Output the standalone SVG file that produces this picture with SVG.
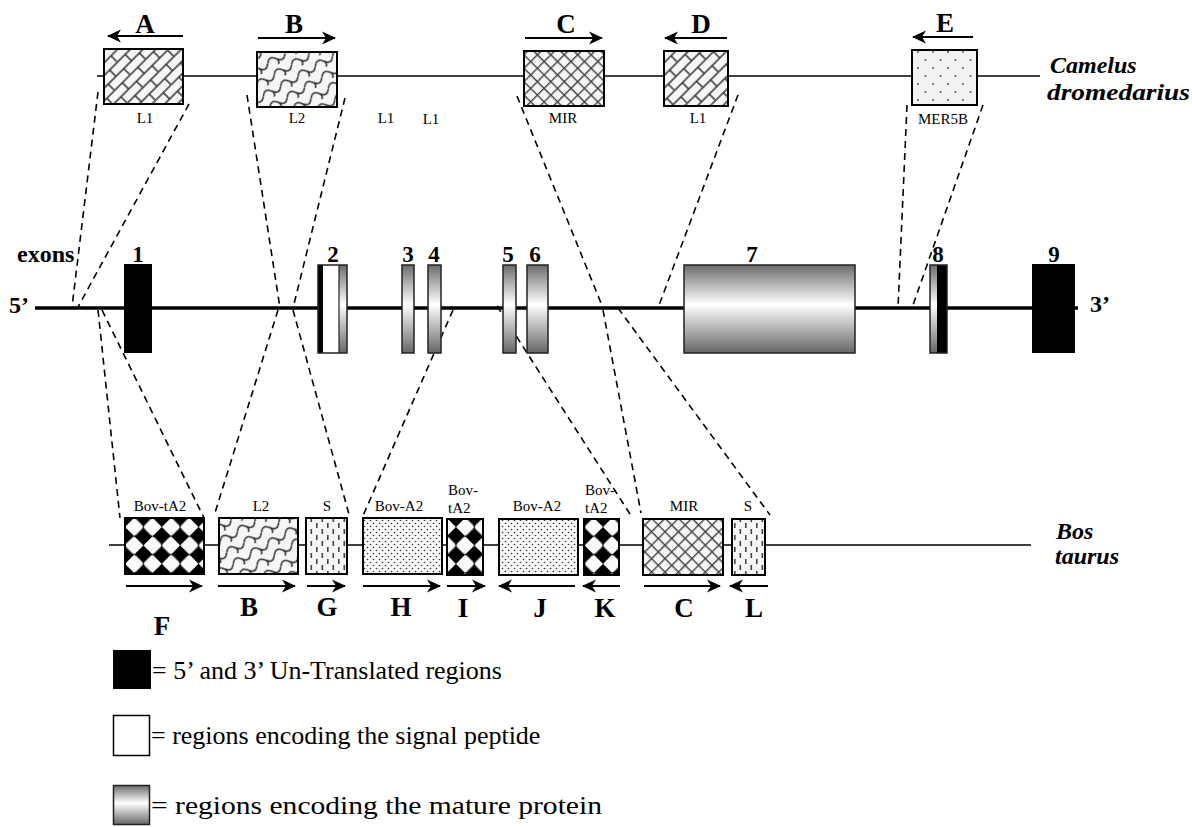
<svg xmlns="http://www.w3.org/2000/svg" width="1192" height="827" viewBox="0 0 1192 827">
<style>
.bl{font-family:"Liberation Serif",serif;font-weight:bold;font-size:27px;text-anchor:middle;fill:#000}
.num{font-family:"Liberation Serif",serif;font-weight:bold;font-size:23px;text-anchor:middle;fill:#000}
.sm{font-family:"Liberation Serif",serif;font-size:15px;text-anchor:middle;fill:#000}
.sml{font-family:"Liberation Serif",serif;font-size:15px;fill:#000}
.sp{font-family:"Liberation Serif",serif;font-weight:bold;font-style:italic;font-size:24px;fill:#000}
.lg{font-family:"Liberation Serif",serif;font-size:26px;fill:#000}
.bd{font-family:"Liberation Serif",serif;font-weight:bold;font-size:24px;fill:#000}
.thin{stroke:#000;stroke-width:1.6;fill:none}
.box{stroke:#000;stroke-width:2}
.ex{stroke:#222;stroke-width:1.5}
.arr{stroke:#000;stroke-width:2.2;fill:none;marker-end:url(#ah)}
.dash{stroke:#000;stroke-width:1.6;fill:none;stroke-dasharray:7 5}
</style>
<defs>
<marker id="ah" viewBox="0 0 14 14" refX="13" refY="7" markerWidth="14" markerHeight="14" markerUnits="userSpaceOnUse" orient="auto">
<path d="M0,0.5 L14,7 L0,13.5 L4,7 Z" fill="#000"/>
</marker>
<linearGradient id="gr" x1="0" y1="0" x2="0" y2="1">
<stop offset="0" stop-color="#6c6c6c"/>
<stop offset="0.45" stop-color="#ffffff"/>
<stop offset="1" stop-color="#666666"/>
</linearGradient>
<pattern id="pL1" width="22" height="18" patternUnits="userSpaceOnUse" patternTransform="rotate(-45)">
<rect width="22" height="18" fill="#f6f6f6"/>
<path d="M0,1H22M0,10H22M6,1V10M17,10V19" stroke="#333" stroke-width="1.5" fill="none"/>
</pattern>
<pattern id="pL2" width="20" height="13" patternUnits="userSpaceOnUse" patternTransform="rotate(-30)">
<rect width="20" height="13" fill="#f6f6f6"/>
<path d="M0,7 Q5,0 10,7 T20,7 M10,7 Q12,11 9,13" stroke="#333" stroke-width="1.5" fill="none"/>
</pattern>
<pattern id="pMIR" width="9.5" height="9.5" patternUnits="userSpaceOnUse" patternTransform="rotate(45)">
<rect width="9.5" height="9.5" fill="#f6f6f6"/>
<path d="M0,0.7H9.5M0.7,0V9.5" stroke="#444" stroke-width="1.4" fill="none"/>
</pattern>
<pattern id="pMER" width="15" height="16" patternUnits="userSpaceOnUse">
<rect width="15" height="16" fill="#f2f2f2"/>
<circle cx="3" cy="4" r="1" fill="#555"/>
<circle cx="10.5" cy="12" r="1" fill="#555"/>
</pattern>
<pattern id="pA2" width="6" height="6" patternUnits="userSpaceOnUse">
<rect width="6" height="6" fill="#f8f8f8"/>
<circle cx="1.5" cy="1.5" r="0.8" fill="#333"/>
<circle cx="4.5" cy="4.5" r="0.8" fill="#333"/>
</pattern>
<pattern id="pTA2" width="26" height="26" patternUnits="userSpaceOnUse" patternTransform="translate(125,527) rotate(45)">
<rect width="26" height="26" fill="#000"/>
<rect x="12.6" y="-0.4" width="13.8" height="13.8" rx="3" fill="#fafafa"/>
<rect x="-0.4" y="12.6" width="13.8" height="13.8" rx="3" fill="#fafafa"/>
</pattern>
<pattern id="pS" width="11" height="12" patternUnits="userSpaceOnUse">
<rect width="11" height="12" fill="#f6f6f6"/>
<rect x="2.5" y="1" width="1.6" height="5" fill="#444"/>
<rect x="8" y="7" width="1.6" height="5" fill="#444"/>
</pattern>
</defs>
<rect width="1192" height="827" fill="#fff"/>

<g id="connectors">
<path class="dash" d="M98,92 L72,307"/>
<path class="dash" d="M189,104 L78,307"/>
<path class="dash" d="M247,95 L280,308"/>
<path class="dash" d="M345,98 L293,308"/>
<path class="dash" d="M517,96 L603,308"/>
<path class="dash" d="M738,95 L658,308"/>
<path class="dash" d="M907,105 L898,308"/>
<path class="dash" d="M983,105 L912,308"/>
<path class="dash" d="M98,310 L120,518"/>
<path class="dash" d="M102,310 L204,518"/>
<path class="dash" d="M278,310 L214,516"/>
<path class="dash" d="M293,310 L350,518"/>
<path class="dash" d="M453,310 L362,518"/>
<path class="dash" d="M497,306 L630,514"/>
<path class="dash" d="M603,310 L641,513"/>
<path class="dash" d="M618,308 L770,515"/>
</g>

<g id="camel">
<line class="thin" x1="97" y1="76" x2="1040" y2="76"/>
<text class="sp" x="1050" y="73">Camelus</text>
<text class="sp" x="1047" y="100" textLength="143" lengthAdjust="spacingAndGlyphs">dromedarius</text>
<g id="cA">
<rect class="box" x="104" y="49" width="79" height="55" fill="url(#pL1)"/>
<path class="arr" d="M183,36 H108"/>
<text class="bl" x="145" y="33">A</text>
<text class="sm" x="145" y="123">L1</text>
</g>
<g id="cB">
<rect class="box" x="257" y="52" width="80" height="55" fill="url(#pL2)"/>
<path class="arr" d="M258,38 H335"/>
<text class="bl" x="294" y="33">B</text>
<text class="sm" x="297" y="123">L2</text>
</g>
<text class="sm" x="386" y="123">L1</text>
<text class="sm" x="431" y="124">L1</text>
<g id="cC">
<rect class="box" x="524" y="51" width="80" height="55" fill="url(#pMIR)"/>
<path class="arr" d="M525,38 H602"/>
<text class="bl" x="566" y="33">C</text>
<text class="sm" x="563" y="123">MIR</text>
</g>
<g id="cD">
<rect class="box" x="664" y="51" width="64" height="55" fill="url(#pL1)"/>
<path class="arr" d="M727,38 H665"/>
<text class="bl" x="701" y="33">D</text>
<text class="sm" x="698" y="123">L1</text>
</g>
<g id="cE">
<rect class="box" x="912" y="50" width="65" height="55" fill="url(#pMER)"/>
<path class="arr" d="M973,37 H913"/>
<text class="bl" x="945" y="32">E</text>
<text class="sm" x="943" y="124">MER5B</text>
</g>
</g>

<g id="gene">
<line x1="35" y1="308" x2="1078" y2="308" stroke="#000" stroke-width="3.5"/>
<text class="bd" x="17" y="262">exons</text>
<text class="bd" x="9" y="313">5’</text>
<text class="bd" x="1090" y="312">3’</text>
<g id="ex1"><rect x="124" y="264" width="28" height="89" fill="#000"/><text class="num" x="138" y="262">1</text></g>
<g id="ex2">
<rect x="318" y="265" width="21" height="88" fill="#fff"/>
<rect x="318" y="265" width="5" height="88" fill="#000"/>
<rect x="339" y="265" width="8" height="88" fill="url(#gr)"/>
<rect class="ex" x="318" y="265" width="29" height="88" fill="none"/>
<line x1="339" y1="265" x2="339" y2="353" stroke="#222" stroke-width="1.2"/>
<text class="num" x="333" y="262">2</text>
</g>
<g id="ex3"><rect class="ex" x="402" y="265" width="12" height="88" fill="url(#gr)"/><text class="num" x="408" y="262">3</text></g>
<g id="ex4"><rect class="ex" x="428" y="265" width="13" height="88" fill="url(#gr)"/><text class="num" x="434" y="262">4</text></g>
<g id="ex5"><rect class="ex" x="503" y="265" width="13" height="88" fill="url(#gr)"/><text class="num" x="508" y="262">5</text></g>
<g id="ex6"><rect class="ex" x="527" y="265" width="21" height="88" fill="url(#gr)"/><text class="num" x="535" y="262">6</text></g>
<g id="ex7"><rect class="ex" x="684" y="265" width="171" height="88" fill="url(#gr)"/><text class="num" x="752" y="262">7</text></g>
<g id="ex8">
<rect x="930" y="265" width="7" height="88" fill="url(#gr)"/>
<rect x="937" y="265" width="10" height="88" fill="#000"/>
<rect class="ex" x="930" y="265" width="17" height="88" fill="none"/>
<text class="num" x="938" y="262">8</text>
</g>
<g id="ex9"><rect x="1032" y="264" width="43" height="89" fill="#000"/><text class="num" x="1054" y="262">9</text></g>
</g>

<g id="bos">
<line class="thin" x1="109" y1="545" x2="1031" y2="545"/>
<text class="sp" x="1056" y="539">Bos</text>
<text class="sp" x="1055" y="564">taurus</text>
<g id="bF">
<rect class="box" x="125" y="518" width="79" height="56" fill="url(#pTA2)"/>
<text class="sm" x="160" y="511">Bov-tA2</text>
<path class="arr" d="M126,586 H202"/>
<text class="bl" x="162" y="635">F</text>
</g>
<g id="bB">
<rect class="box" x="219" y="518" width="79" height="56" fill="url(#pL2)"/>
<text class="sm" x="261" y="511">L2</text>
<path class="arr" d="M218,586 H295"/>
<text class="bl" x="249" y="616">B</text>
</g>
<g id="bG">
<rect class="box" x="306" y="518" width="41" height="56" fill="url(#pS)"/>
<text class="sm" x="327" y="511">S</text>
<path class="arr" d="M307,586 H345"/>
<text class="bl" x="327" y="616">G</text>
</g>
<g id="bH">
<rect class="box" x="363" y="518" width="79" height="56" fill="url(#pA2)"/>
<text class="sm" x="399" y="511">Bov-A2</text>
<path class="arr" d="M363,586 H440"/>
<text class="bl" x="401" y="616">H</text>
</g>
<g id="bI">
<rect class="box" x="447" y="519" width="36" height="56" fill="url(#pTA2)"/>
<text class="sml" x="448" y="495">Bov-</text>
<text class="sml" x="448" y="513">tA2</text>
<path class="arr" d="M447,586 H485"/>
<text class="bl" x="463" y="617">I</text>
</g>
<g id="bJ">
<rect class="box" x="499" y="519" width="79" height="56" fill="url(#pA2)"/>
<text class="sm" x="537" y="511">Bov-A2</text>
<path class="arr" d="M575,586 H499"/>
<text class="bl" x="540" y="617">J</text>
</g>
<g id="bK">
<rect class="box" x="584" y="519" width="35" height="56" fill="url(#pTA2)"/>
<text class="sml" x="585" y="495">Bov-</text>
<text class="sml" x="585" y="513">tA2</text>
<path class="arr" d="M620,586 H583"/>
<text class="bl" x="605" y="617">K</text>
</g>
<g id="bC">
<rect class="box" x="643" y="519" width="80" height="56" fill="url(#pMIR)"/>
<text class="sm" x="684" y="511">MIR</text>
<path class="arr" d="M644,586 H720"/>
<text class="bl" x="684" y="617">C</text>
</g>
<g id="bL">
<rect class="box" x="732" y="519" width="33" height="56" fill="url(#pS)"/>
<text class="sm" x="748" y="511">S</text>
<path class="arr" d="M768,586 H730"/>
<text class="bl" x="754" y="617">L</text>
</g>
</g>

<g id="legend">
<g id="lg1"><rect x="113" y="650" width="38" height="39" fill="#000"/><text class="lg" x="152" y="679">= 5’ and 3’ Un-Translated regions</text></g>
<g id="lg2"><rect x="113.5" y="715.5" width="36" height="40" fill="#fff" stroke="#000" stroke-width="1.5"/><text class="lg" x="151" y="744">= regions encoding the signal peptide</text></g>
<g id="lg3"><rect x="113.5" y="785.5" width="36" height="39" fill="url(#gr)" stroke="#222" stroke-width="1.5"/><text class="lg" x="151" y="814" textLength="451" lengthAdjust="spacingAndGlyphs">= regions encoding the mature protein</text></g>
</g>
</svg>
